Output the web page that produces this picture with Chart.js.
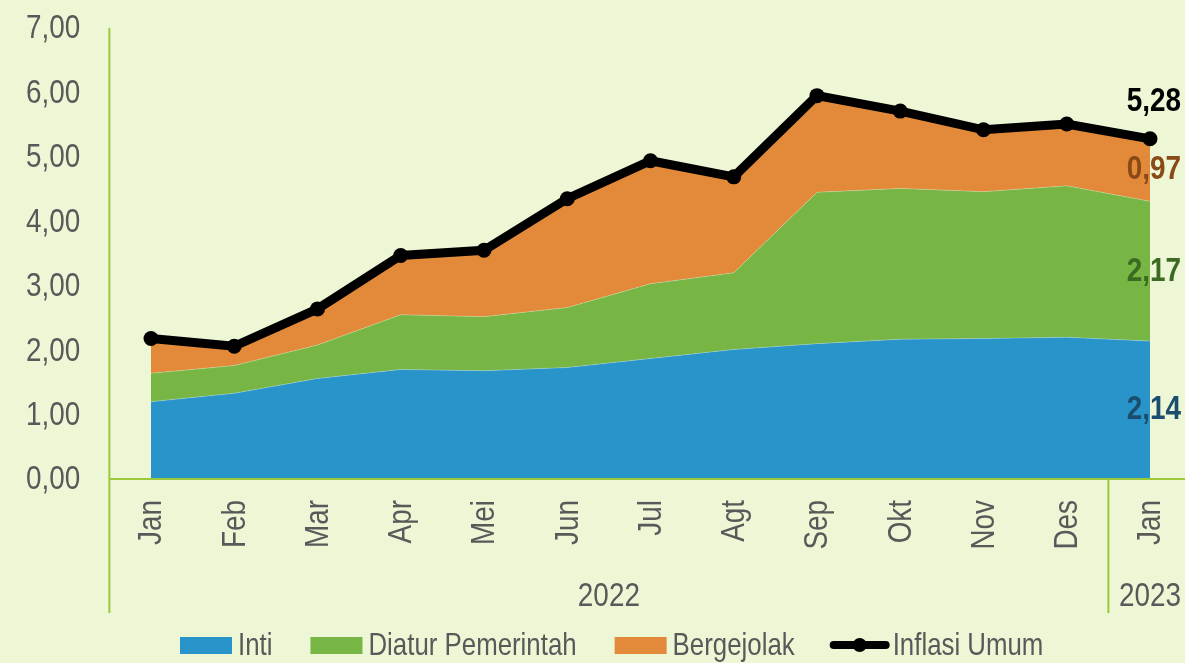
<!DOCTYPE html>
<html>
<head>
<meta charset="utf-8">
<script src="https://cdn.jsdelivr.net/npm/chart.js@4.4.0/dist/chart.umd.min.js"></script>
<style>
  html, body { margin: 0; padding: 0; background: #EDF7D6; }
  #wrap { width: 1185px; height: 663px; position: relative; }
</style>
</head>
<body>
<div id="wrap"><canvas id="inflasi-chart"></canvas></div>
<script>
// bulan & tahun
var months = ["Jan", "Feb", "Mar", "Apr", "Mei", "Jun", "Jul", "Agt", "Sep", "Okt", "Nov", "Des", "Jan"];
var years = ["2022", "2023"];
var yTicks = [0, 1, 2, 3, 4, 5, 6, 7];

// andil inflasi (%, yoy)
var inti       = [1.20, 1.33, 1.56, 1.70, 1.68, 1.73, 1.87, 2.01, 2.10, 2.17, 2.18, 2.20, 2.14];
var diatur     = [0.44, 0.43, 0.52, 0.85, 0.84, 0.93, 1.16, 1.19, 2.35, 2.34, 2.28, 2.35, 2.17];
var bergejolak = [0.54, 0.30, 0.56, 0.92, 1.03, 1.69, 1.91, 1.49, 1.50, 1.20, 0.96, 0.96, 0.97];
var umum       = [2.18, 2.06, 2.64, 3.47, 3.55, 4.35, 4.94, 4.69, 5.95, 5.71, 5.42, 5.51, 5.28];

var FONT = "'Liberation Sans', Arial, sans-serif";
var NARROW = 0.82; // Arial Narrow tidak ada, jadi huruf dipersempit
var GREY = "#595959";
var AXIS = "#9BC93A";

function fmt(v) { return v.toFixed(2).replace(".", ","); }

function txt(ctx, s, x, y, o) {
  ctx.save();
  ctx.translate(x, y);
  if (o.rotate) ctx.rotate(-Math.PI / 2);
  ctx.scale(NARROW, 1);
  ctx.font = (o.bold ? "bold " : "") + o.size + "px " + FONT;
  ctx.fillStyle = o.color || GREY;
  ctx.textAlign = o.align || "left";
  ctx.textBaseline = o.baseline || "middle";
  ctx.fillText(s, 0, 0);
  var w = ctx.measureText(s).width * NARROW;
  ctx.restore();
  return w;
}

var extras = {
  id: "extras",
  afterDraw: function (chart) {
    var ctx = chart.ctx, x = chart.scales.x, y = chart.scales.y;
    var area = chart.chartArea;
    var step = x.getPixelForValue(1) - x.getPixelForValue(0);
    var axisX = area.left - step / 2;
    var axisY = y.getPixelForValue(0);
    var bottom = 613;

    // garis sumbu & pemisah tahun
    ctx.save();
    ctx.strokeStyle = AXIS;
    ctx.lineWidth = 2;
    var sep = x.getPixelForValue(11) + step / 2;
    ctx.beginPath();
    ctx.moveTo(axisX, y.getPixelForValue(7)); ctx.lineTo(axisX, bottom);
    ctx.moveTo(axisX, axisY); ctx.lineTo(chart.width, axisY);
    ctx.moveTo(sep, axisY); ctx.lineTo(sep, bottom);
    ctx.stroke();
    ctx.restore();

    // label sumbu
    yTicks.forEach(function (v) {
      txt(ctx, fmt(v), axisX - 29, y.getPixelForValue(v) + 1, { size: 34, align: "right" });
    });
    months.forEach(function (m, i) {
      txt(ctx, m, x.getPixelForValue(i) + 1, 500, { size: 34, align: "right", rotate: true });
    });
    txt(ctx, years[0], (axisX + sep) / 2, 606, { size: 34, align: "center", baseline: "alphabetic" });
    txt(ctx, years[1], x.getPixelForValue(12), 606, { size: 34, align: "center", baseline: "alphabetic" });

    // label nilai Jan 2023
    var last = months.length - 1;
    var lx = 1181;
    var b0 = inti[last], b1 = b0 + diatur[last], b2 = b1 + bergejolak[last];
    txt(ctx, fmt(umum[last]), lx, y.getPixelForValue(umum[last]) - 37, { size: 34, bold: true, align: "right", color: "#000000" });
    txt(ctx, fmt(bergejolak[last]), lx, y.getPixelForValue((b1 + b2) / 2), { size: 34, bold: true, align: "right", color: "#8A4A17" });
    txt(ctx, fmt(diatur[last]), lx, y.getPixelForValue((b0 + b1) / 2), { size: 34, bold: true, align: "right", color: "#3C6A22" });
    txt(ctx, fmt(inti[last]), lx, y.getPixelForValue(b0 / 2), { size: 34, bold: true, align: "right", color: "#1B4E6E" });

    // legenda
    var lxp = 180, ly = 645;
    ctx.save();
    chart.data.datasets.forEach(function (ds) {
      if (ds.fill === false) {
        lxp -= 3;
        ctx.strokeStyle = "#000000";
        ctx.lineWidth = 8;
        ctx.lineCap = "round";
        ctx.beginPath();
        ctx.moveTo(lxp + 4, ly); ctx.lineTo(lxp + 56, ly);
        ctx.stroke();
        ctx.beginPath();
        ctx.arc(lxp + 30, ly, 7, 0, Math.PI * 2);
        ctx.fillStyle = "#000000";
        ctx.fill();
        lxp += 63;
      } else {
        ctx.fillStyle = ds.backgroundColor;
        ctx.fillRect(lxp, ly - 8, 52, 17);
        lxp += 58;
      }
      lxp += txt(ctx, ds.label, lxp, ly + 1, { size: 31.5 }) + 38;
    });
    ctx.restore();
  }
};

new Chart(document.getElementById("inflasi-chart"), {
  type: "line",
  data: {
    labels: months,
    datasets: [
      {
        label: "Inti",
        data: inti,
        backgroundColor: "#2994CA",
        borderColor: "rgba(255,255,255,0.25)",
        borderWidth: 1,
        fill: "origin",
        pointRadius: 0,
        order: 1
      }, {
        label: "Diatur Pemerintah",
        data: diatur,
        backgroundColor: "#77B545",
        borderColor: "rgba(255,255,255,0.25)",
        borderWidth: 1,
        fill: "-1",
        pointRadius: 0,
        order: 1
      }, {
        label: "Bergejolak",
        data: bergejolak,
        backgroundColor: "#E38A3A",
        borderColor: "rgba(255,255,255,0.25)",
        borderWidth: 1,
        fill: "-1",
        pointRadius: 0,
        order: 1
      }, {
        label: "Inflasi Umum",
        data: umum,
        stack: "umum",
        fill: false,
        clip: false,
        borderColor: "#000000",
        backgroundColor: "#000000",
        borderWidth: 9,
        pointRadius: 7.5,
        pointBackgroundColor: "#000000",
        pointBorderWidth: 0,
        order: 0
      }
    ]
  },
  options: {
    responsive: true,
    maintainAspectRatio: false,
    animation: false,
    layout: { padding: { top: 28, right: 35, bottom: 0, left: 0 } },
    plugins: {
      legend: { display: false },
      tooltip: { enabled: false }
    },
    scales: {
      x: {
        offset: false,
        grid: { display: false },
        border: { display: false },
        ticks: { display: false },
        afterFit: function (s) { s.height = 184; }
      },
      y: {
        stacked: true,
        min: 0,
        max: 7,
        grid: { display: false },
        border: { display: false },
        ticks: { display: false },
        afterFit: function (s) { s.width = 151; }
      }
    }
  },
  plugins: [extras]
});
</script>
</body>
</html>
